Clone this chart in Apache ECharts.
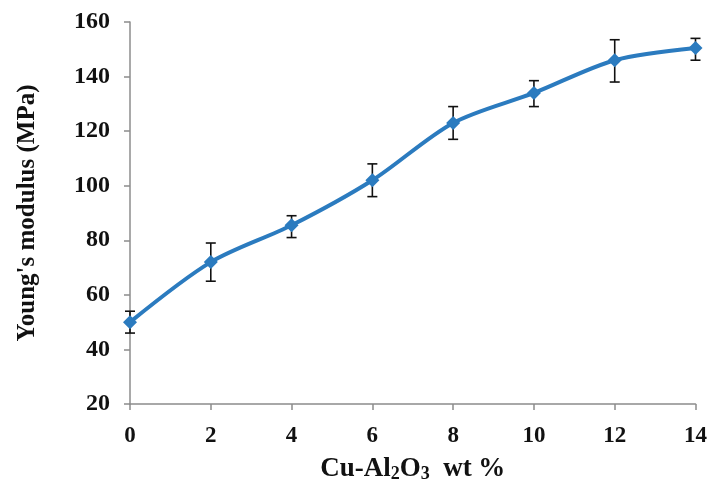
<!DOCTYPE html>
<html>
<head>
<meta charset="utf-8">
<script src="https://cdn.jsdelivr.net/npm/echarts@6/dist/echarts.min.js"></script>
<style>
  html, body { margin: 0; padding: 0; background: #fff; }
  #chart { width: 710px; height: 488px; }
</style>
</head>
<body>
<div id="chart"></div>
<script>
// Cu-Al2O3 content (wt %) vs Young's modulus with error bars
const wtPercent = [0, 2, 4, 6, 8, 10, 12, 14]
const modulus = [50, 72, 85.5, 102, 123, 134, 146, 150.5]
const errLow = [46, 65, 81, 96, 117, 129, 138, 146]
const errHigh = [54, 79, 89, 108, 129, 138.5, 153.5, 154]

const serif = '"Liberation Serif", "Times New Roman", serif'

const chart = echarts.init(document.getElementById('chart'))

const axisStyle = {
  axisLine: { show: true, lineStyle: { color: '#8c8c8c', width: 1.5 } },
  axisTick: { show: true, inside: false, length: 6, lineStyle: { color: '#8c8c8c', width: 1.5 } },
  splitLine: { show: false }
}

chart.setOption({
  animation: false,
  grid: { left: 130, right: 13, top: 22, bottom: 84 },
  xAxis: {
    type: 'value',
    min: 0,
    max: 14,
    interval: 2,
    ...axisStyle,
    axisLabel: { margin: 21, color: '#111', fontFamily: serif, fontWeight: 'bold', fontSize: 23 },
    name: 'Cu-Al{s|2}O{s|3}  wt %',
    nameLocation: 'middle',
    nameGap: 51,
    nameTextStyle: {
      color: '#111', fontFamily: serif, fontWeight: 'bold', fontSize: 27,
      rich: { s: { fontFamily: serif, fontWeight: 'bold', fontSize: 18, verticalAlign: 'bottom', padding: [10, 0, 0, 0] } }
    }
  },
  yAxis: {
    type: 'value',
    min: 20,
    max: 160,
    interval: 20,
    ...axisStyle,
    axisLabel: { margin: 20, color: '#111', fontFamily: serif, fontWeight: 'bold', fontSize: 24 },
    name: "Young's modulus (MPa)",
    nameLocation: 'middle',
    nameGap: 90,
    nameTextStyle: { color: '#111', fontFamily: serif, fontWeight: 'bold', fontSize: 25 }
  },
  series: [
    {
      type: 'custom',
      name: 'error',
      data: wtPercent.map((x, i) => [x, errLow[i], errHigh[i]]),
      renderItem: function (params, api) {
        const lo = api.coord([api.value(0), api.value(1)])
        const hi = api.coord([api.value(0), api.value(2)])
        const cap = 5
        const style = { stroke: '#111', lineWidth: 1.6 }
        return {
          type: 'group',
          children: [
            { type: 'line', shape: { x1: hi[0], y1: hi[1], x2: lo[0], y2: lo[1] }, style },
            { type: 'line', shape: { x1: hi[0] - cap, y1: hi[1], x2: hi[0] + cap, y2: hi[1] }, style },
            { type: 'line', shape: { x1: lo[0] - cap, y1: lo[1], x2: lo[0] + cap, y2: lo[1] }, style }
          ]
        }
      },
      z: 1
    },
    {
      type: 'line',
      name: 'modulus',
      data: wtPercent.map((x, i) => [x, modulus[i]]),
      smooth: 0.3,
      symbol: 'diamond',
      symbolSize: 14,
      itemStyle: { color: '#2b7bbf' },
      lineStyle: { color: '#2b7bbf', width: 4 },
      z: 2
    }
  ]
})
</script>
</body>
</html>
